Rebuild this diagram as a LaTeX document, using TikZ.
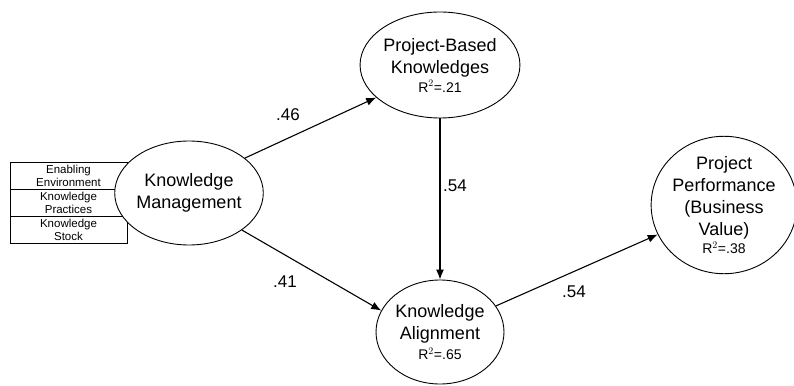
\documentclass[tikz,border=0pt]{standalone}
\usepackage{fontspec}
\setmainfont{Liberation Sans}
\usetikzlibrary{shapes.geometric,arrows.meta}
\newcommand\rsqsize{\fontsize{14}{16}\selectfont}
\begin{document}
\begin{tikzpicture}[x=1pt,y=-1pt,
  construct/.style={draw, line width=0.9pt, ellipse, inner sep=0pt, align=center,
    font=\fontsize{18}{22}\selectfont},
  path/.style={draw, line width=1.1pt, -{Latex[length=10pt,width=8pt]}},
  coef/.style={font=\fontsize{17}{20}\selectfont},
  cell/.style={draw, line width=0.8pt, minimum width=117pt, minimum height=27pt,
    inner sep=0pt, align=center, font=\fontsize{11.5}{13}\selectfont}]
\useasboundingbox (0,0) rectangle (794,385);

% indicator block of the knowledge management construct
\node[cell] (c1) at (68.5,175.5) {Enabling\\Environment};
\node[cell] (c2) at (68.5,202.5) {Knowledge\\Practices};
\node[cell] (c3) at (68.5,229.5) {Knowledge\\Stock};

% latent constructs
\node[construct, fill=white, minimum width=126pt, minimum height=104pt] (km) at (189,193)
  {Knowledge\\Management};
\node[construct, minimum width=130pt, minimum height=106pt] (pbk) at (440,65)
  {Project-Based\\Knowledges\\[-3pt]{\rsqsize R$^{2}$=.21}};
\node[construct, minimum width=128pt, minimum height=104pt] (ka) at (440,332)
  {Knowledge\\Alignment\\[-2pt]{\rsqsize R$^{2}$=.65}};
\node[construct, minimum width=144pt, minimum height=126pt] (pp) at (724,205)
  {Project\\Performance\\(Business\\Value)\\[-4pt]{\rsqsize R$^{2}$=.38}};

% structural paths
\draw[path] (km.32) -- (pbk.207);
\draw[path] (km.-35) -- (ka.160);
\draw[path] (pbk.south) -- (ka.north);
\draw[path] (ka.25) -- (pp.204);

% path coefficients
\node[coef] (b1) at (288,115) {.46};
\node[coef] (b2) at (455,186) {.54};
\node[coef] (b3) at (285,282) {.41};
\node[coef] (b4) at (574,292) {.54};
\end{tikzpicture}
\end{document}
